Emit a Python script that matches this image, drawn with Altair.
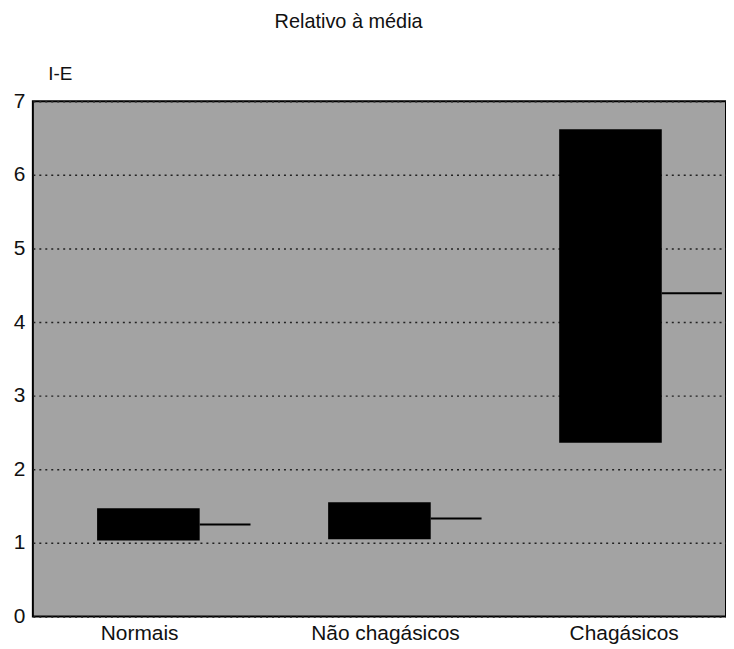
import altair as alt
import pandas as pd

categories = ["Normais", "Não chagásicos", "Chagásicos"]
positions = [0.5, 1.5, 2.5]
label_positions = [0.46, 1.524, 2.557]
low = [1.03, 1.05, 2.36]
high = [1.47, 1.55, 6.62]
mean = [1.25, 1.33, 4.39]
line_len = [0.22, 0.22, 0.26]
y_ticks = [0, 1, 2, 3, 4, 5, 6, 7]

df = pd.DataFrame({"cat": categories, "pos": positions, "low": low,
                   "high": high, "mean": mean, "len": line_len})

FONT = "Liberation Sans"
half = 0.222

x_scale = alt.Scale(domain=[0, 3], nice=False, zero=False)
y_scale = alt.Scale(domain=[0, 7], nice=False)

base = alt.Chart(df).transform_calculate(
    x0=f"datum.pos - {half}", x1=f"datum.pos + {half}",
    xe=f"datum.pos + {half} + datum.len")

label_expr = ("datum.value < 1 ? '" + categories[0] + "' : datum.value < 2 ? '"
              + categories[1] + "' : '" + categories[2] + "'")

bars = base.mark_bar(color="black").encode(
    x=alt.X("x0:Q", scale=x_scale, axis=alt.Axis(
        values=label_positions, labelExpr=label_expr, title=None, grid=False,
        ticks=False, domain=False, labelFont=FONT, labelFontSize=21,
        labelColor="#111", labelPadding=6)),
    x2="x1:Q",
    y=alt.Y("low:Q", scale=y_scale, axis=alt.Axis(
        values=y_ticks, title="I-E", titleAngle=0, titleAlign="left",
        titleBaseline="alphabetic", titleX=15, titleY=-22, titleFont=FONT,
        titleFontSize=19, titleFontWeight="normal", titleColor="#111",
        grid=True, gridDash=[2, 4], gridColor="#222", gridWidth=1.5,
        ticks=False, domain=False, labelFont=FONT, labelFontSize=21,
        labelColor="#111", labelPadding=8, format="d")),
    y2="high:Q",
)

means = base.mark_rule(color="black", strokeWidth=2).encode(
    x=alt.X("x1:Q", scale=x_scale),
    x2="xe:Q",
    y=alt.Y("mean:Q", scale=y_scale),
)

chart = alt.layer(bars, means).properties(
    width=697, height=518,
    autosize=alt.AutoSizeParams(type="none"),
    padding={"left": 25, "top": 92, "right": 0, "bottom": 31},
    title=alt.TitleParams("Relativo à média", font=FONT, fontSize=20,
                          fontWeight="normal", color="#111", offset=33,
                          anchor="middle", dx=-31),
).configure_view(
    fill="#a3a3a3", stroke="black", strokeWidth=2
)

chart.save("out.html", embed_options={"renderer": "svg", "actions": False})
